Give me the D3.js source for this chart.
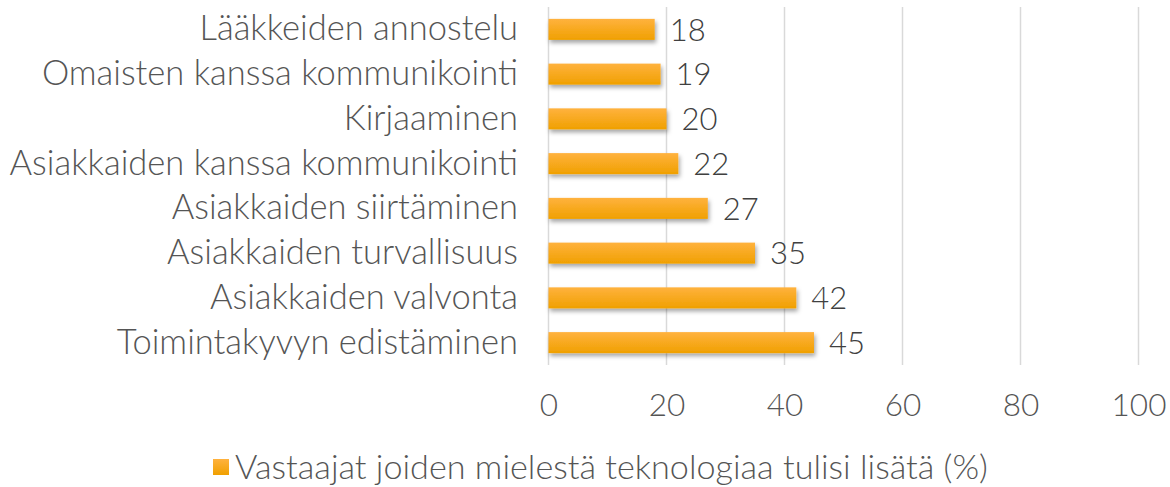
<!DOCTYPE html>
<html><head><meta charset="utf-8">
<script src="https://cdn.jsdelivr.net/npm/d3@7"></script>
<style>body{margin:0;background:#fff;} svg{display:block;} text{font-family:Lato,"Open Sans",sans-serif;fill:#555555;font-weight:300;}</style>
</head><body><svg id="c" width="1170" height="487"></svg>
<script>
const categories = ["Lääkkeiden annostelu","Omaisten kanssa kommunikointi","Kirjaaminen","Asiakkaiden kanssa kommunikointi","Asiakkaiden siirtäminen","Asiakkaiden turvallisuus","Asiakkaiden valvonta","Toimintakyvyn edistäminen"];
const values = [18,19,20,22,27,35,42,45];
const ticks = [0,20,40,60,80,100];
const seriesName = "Vastaajat joiden mielestä teknologiaa tulisi lisätä (%)";

const svg = d3.select("#c");
const defs = svg.append("defs");
const g1 = defs.append("linearGradient").attr("id","bg").attr("x1",0).attr("y1",0).attr("x2",0).attr("y2",1);
g1.append("stop").attr("offset","0%").attr("stop-color","#FFB23E");
g1.append("stop").attr("offset","100%").attr("stop-color","#F0A000");
const f = defs.append("filter").attr("id","sh").attr("x","-10%").attr("y","-30%").attr("width","120%").attr("height","180%");
f.append("feDropShadow").attr("dx",1.5).attr("dy",3).attr("stdDeviation",2).attr("flood-color","#000").attr("flood-opacity",0.35);

const x = d3.scaleLinear().domain([0,100]).range([548.5,1138.5]);
const y = d3.scaleBand().domain(categories).range([7,365]).paddingInner(0.53).paddingOuter(0.265);

svg.append("g").selectAll("line").data(ticks).join("line")
 .attr("x1",d=>x(d)).attr("x2",d=>x(d)).attr("y1",7).attr("y2",365)
 .attr("stroke","#d9d9d9").attr("stroke-width",1.5);

const FF = "Lato,'Open Sans',sans-serif";
const xa = svg.append("g").attr("transform","translate(0,365)")
 .call(d3.axisBottom(x).tickValues(ticks).tickSize(0).tickPadding(29));
xa.select(".domain").remove();
xa.selectAll("text").style("font-size","31.5px").style("fill","#555555").style("font-family",FF).style("font-weight",300);

const ya = svg.append("g").attr("transform","translate(518,0)")
 .call(d3.axisLeft(y).tickSize(0).tickPadding(0));
ya.select(".domain").remove();
ya.selectAll("text").style("font-size","34.5px").style("fill","#555555").style("font-family",FF).style("font-weight",300);

svg.append("g").selectAll("rect").data(values).join("rect")
 .attr("x",x(0)).attr("y",(d,i)=>y(categories[i]))
 .attr("width",d=>x(d)-x(0)).attr("height",y.bandwidth())
 .attr("fill","url(#bg)").attr("filter","url(#sh)");

svg.append("g").selectAll("text").data(values).join("text")
 .attr("x",d=>x(d)+15).attr("y",(d,i)=>y(categories[i])+y.bandwidth()/2)
 .attr("dy","0.36em").style("font-size","31px").style("fill","#404040").text(d=>d);

const lg = svg.append("g");
lg.append("rect").attr("x",213).attr("y",459).attr("width",16).attr("height",16).attr("fill","url(#bg)");
lg.append("text").attr("x",235).attr("y",467).attr("dy","0.36em").style("font-size","34.2px").text(seriesName);
</script></body></html>
